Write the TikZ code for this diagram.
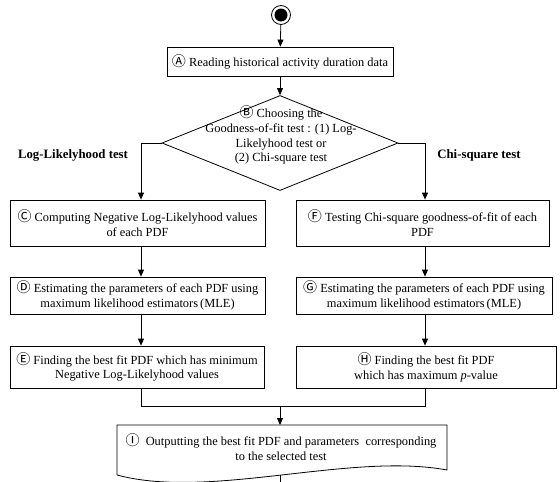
\documentclass[tikz,border=0pt]{standalone}
\usepackage{fontspec}
\setmainfont{Liberation Serif}
\newfontfamily\circfont{Noto Sans CJK SC}
\usetikzlibrary{arrows.meta,shapes.geometric}
\newcommand{\cl}[1]{{\circfont\fontsize{14}{12}\selectfont #1}}
\begin{document}
\begin{tikzpicture}[x=1pt,y=-1pt,font=\fontsize{12.4}{14.8}\selectfont,
  box/.style={draw,line width=0.8pt,align=center,inner sep=0pt},
  arr/.style={-{Triangle[length=7pt,width=6pt]},line width=0.8pt},
  ln/.style={line width=0.8pt},
  lbl/.style={font=\fontsize{12.8}{14.8}\selectfont\bfseries}]
\useasboundingbox (0,0) rectangle (560,482);
\coordinate (lx) at (141,0);
\coordinate (rx) at (425,0);
\coordinate (cx) at (280,0);

\node[circle,draw,line width=0.8pt,minimum size=19pt,inner sep=0pt] (S) at (281,15) {};
\fill (S.center) circle (6.5);

\node[box,minimum width=226pt,minimum height=29pt] (A) at (280,61.5) {\cl{Ⓐ} Reading historical activity duration data};

\node[draw,line width=0.8pt,diamond,minimum width=236pt,minimum height=95pt,inner sep=0pt] (B) at (280,143) {};
\node[align=center,inner sep=0pt] (Bt) at (281,135) {\cl{Ⓑ} Choosing the\\Goodness-of-fit test : (1) Log-\\Likelyhood test or\\(2) Chi-square test};

\node[lbl] (L1) at (73,155) {Log-Likelyhood test};
\node[lbl] (L2) at (479,155) {Chi-square test};

\node[box,minimum width=255pt,minimum height=46pt] (C) at (137.5,223) {\cl{Ⓒ} Computing Negative Log-Likelyhood values\\of each PDF};
\node[box,minimum width=253pt,minimum height=46pt] (F) at (422.5,223) {\cl{Ⓕ} Testing Chi-square goodness-of-fit of each\\PDF};

\node[box,minimum width=255pt,minimum height=37pt] (D) at (137.5,295.5) {\cl{Ⓓ} Estimating the parameters of each PDF using\\maximum likelihood estimators\,(MLE)};
\node[box,minimum width=256pt,minimum height=37pt] (G) at (424,295.5) {\cl{Ⓖ} Estimating the parameters of each PDF using\\maximum likelihood estimators\,(MLE)};

\node[box,minimum width=254pt,minimum height=42pt] (E) at (137,367) {\cl{Ⓔ} Finding the best fit PDF which has minimum\\Negative Log-Likelyhood values};
\node[box,minimum width=260pt,minimum height=42pt] (H) at (426,367) {\cl{Ⓗ} Finding the best fit PDF\\which has maximum \textit{p}-value};

% document shape I
\coordinate (Itl) at (117,425);
\coordinate (Itr) at (447,425);
\coordinate (Ibr) at (447,470);
\coordinate (Ibl) at (117,475);
\draw[ln] (Ibl) -- (Itl) -- (Itr) -- (Ibr) .. controls (350,452) and (210,500) .. (Ibl);
\node[align=center,inner sep=0pt] (I) at (281,447.5) {\cl{Ⓘ}\ \ Outputting the best fit PDF and parameters\ \ corresponding\\to the selected test};
\coordinate (Iout) at (280,475);
\coordinate (Iend) at (280,483);
\draw[ln] (Iout) -- (Iend);

% connectors
\draw[arr] (S) -- (A);
\draw[arr] (A) -- (B.north);
\draw[arr] (B.west) -| (C.north -| lx);
\draw[arr] (B.east) -| (F.north -| rx);
\draw[arr] (C.south -| lx) -- (D.north -| lx);
\draw[arr] (F.south -| rx) -- (G.north -| rx);
\draw[arr] (D.south -| lx) -- (E.north -| lx);
\draw[arr] (G.south -| rx) -- (H.north -| rx);
\coordinate (m) at (280,406);
\draw[ln] (E.south -| lx) |- (m);
\draw[ln] (H.south -| rx) |- (m);
\draw[arr] (m) -- (m |- Itl);
\end{tikzpicture}
\end{document}
